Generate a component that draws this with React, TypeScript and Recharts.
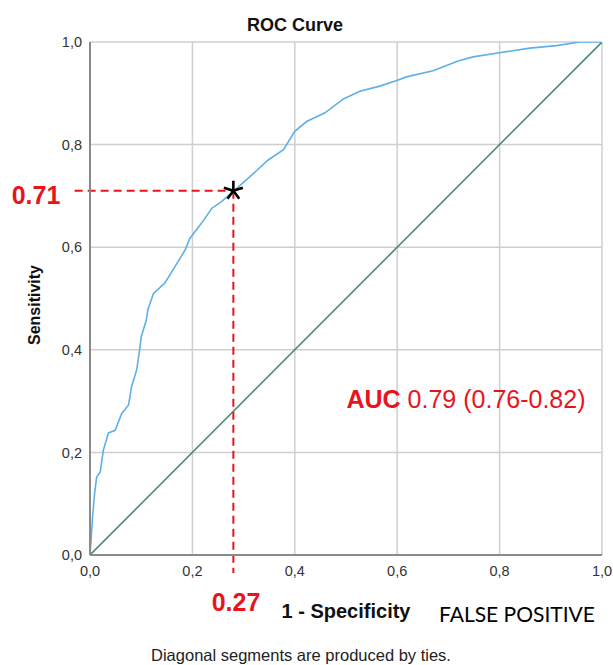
import {
  ComposedChart,
  Line,
  Scatter,
  XAxis,
  YAxis,
  CartesianGrid,
  ReferenceLine,
} from 'recharts';

// ROC curve: 1 - specificity vs sensitivity
const fpr = [
  0, 0.002, 0.005, 0.009, 0.013, 0.02, 0.026, 0.036, 0.049, 0.062, 0.075, 0.078, 0.081,
  0.091, 0.096, 0.1, 0.11, 0.113, 0.124, 0.146, 0.166, 0.186, 0.195, 0.218, 0.238,
  0.257, 0.28, 0.313, 0.348, 0.378, 0.4, 0.423, 0.459, 0.495, 0.527, 0.566, 0.599,
  0.618, 0.67, 0.719, 0.748, 0.8, 0.859, 0.911, 0.957, 1,
];
const tpr = [
  0, 0.028, 0.074, 0.12, 0.152, 0.162, 0.204, 0.238, 0.243, 0.276, 0.292, 0.308, 0.328,
  0.36, 0.393, 0.425, 0.458, 0.478, 0.51, 0.53, 0.562, 0.595, 0.617, 0.647, 0.676,
  0.689, 0.709, 0.738, 0.77, 0.79, 0.826, 0.845, 0.862, 0.889, 0.904, 0.914, 0.925,
  0.932, 0.944, 0.963, 0.971, 0.979, 0.988, 0.993, 1, 1,
];
const diagX = [0, 1];
const diagY = [0, 1];

// cut-off point and the ends of its guide lines
const cutoffX = 0.28;
const cutoffY = 0.71;
const guideLeftX = -0.03;
const guideBottomY = -0.035;

const ticks = [0, 0.2, 0.4, 0.6, 0.8, 1];

const rocData = fpr.map((x, i) => ({ x, roc: tpr[i] }));
const diagData = diagX.map((x, i) => ({ x, diag: diagY[i] }));
const cutoffData = [{ x: cutoffX, y: cutoffY }];

const RED = '#e8141c';
const FONT = 'Arial, "Liberation Sans", sans-serif';
const fmt = (v: number) => v.toFixed(1).replace('.', ',');

const Asterisk = (props: { cx?: number; cy?: number }) => {
  const { cx = 0, cy = 0 } = props;
  const r = 10;
  const arms = [-90, -18, 54, 126, 198].map((a) => {
    const rad = (a * Math.PI) / 180;
    return `M${cx},${cy}L${cx + r * Math.cos(rad)},${cy + r * Math.sin(rad)}`;
  });
  return <path d={arms.join('')} stroke="#000" strokeWidth={2.6} fill="none" />;
};

const textBase: React.CSSProperties = {
  position: 'absolute',
  transform: 'translate(-50%, -50%)',
  whiteSpace: 'nowrap',
  lineHeight: 1,
  fontFamily: FONT,
};

export default function App() {
  return (
    <div style={{ position: 'absolute', left: 0, top: 0, width: 613, height: 665, background: '#fff' }}>
      <ComposedChart
        width={613}
        height={665}
        margin={{ top: 42, right: 11, left: 60, bottom: 80 }}
      >
        <CartesianGrid stroke="#cfcfcf" strokeWidth={1.5} />
        <XAxis
          dataKey="x"
          type="number"
          domain={[0, 1]}
          ticks={ticks}
          tickFormatter={fmt}
          height={30}
          tickLine={false}
          tickMargin={5}
          axisLine={{ stroke: '#8a8a8a', strokeWidth: 2 }}
          tick={{ fill: '#333', fontSize: 14.5, fontFamily: FONT }}
          allowDataOverflow
        />
        <YAxis
          type="number"
          domain={[0, 1]}
          ticks={ticks}
          tickFormatter={fmt}
          width={30}
          tickLine={false}
          axisLine={{ stroke: '#8a8a8a', strokeWidth: 2 }}
          tick={{ fill: '#333', fontSize: 14.5, fontFamily: FONT }}
          allowDataOverflow
        />
        <Line
          data={diagData}
          dataKey="diag"
          type="linear"
          stroke="#4b8b7b"
          strokeWidth={1.6}
          dot={false}
          isAnimationActive={false}
        />
        <Line
          data={rocData}
          dataKey="roc"
          type="linear"
          stroke="#5fb0e6"
          strokeWidth={1.6}
          dot={false}
          isAnimationActive={false}
        />
        <ReferenceLine
          segment={[{ x: guideLeftX, y: cutoffY }, { x: cutoffX, y: cutoffY }]}
          stroke={RED}
          strokeWidth={2}
          strokeDasharray="8 5"
          ifOverflow="visible"
        />
        <ReferenceLine
          segment={[{ x: cutoffX, y: cutoffY }, { x: cutoffX, y: guideBottomY }]}
          stroke={RED}
          strokeWidth={2}
          strokeDasharray="8 5"
          ifOverflow="visible"
        />
        <Scatter
          data={cutoffData}
          dataKey="y"
          shape={<Asterisk />}
          isAnimationActive={false}
        />
      </ComposedChart>

      <div style={{ ...textBase, left: 295, top: 25, fontSize: 18, fontWeight: 'bold', color: '#111' }}>
        ROC Curve
      </div>
      <div
        style={{
          ...textBase,
          left: 35,
          top: 305,
          fontSize: 16,
          fontWeight: 'bold',
          color: '#111',
          transform: 'translate(-50%, -50%) rotate(-90deg)',
        }}
      >
        Sensitivity
      </div>
      <div style={{ ...textBase, left: 36, top: 195, fontSize: 25, fontWeight: 'bold', color: RED }}>
        {cutoffY.toFixed(2)}
      </div>
      <div style={{ ...textBase, left: 236, top: 602, fontSize: 25, fontWeight: 'bold', color: RED }}>
        {(0.27).toFixed(2)}
      </div>
      <div style={{ ...textBase, left: 346, top: 611, fontSize: 20, fontWeight: 'bold', color: '#111' }}>
        1 - Specificity
      </div>
      <div style={{ ...textBase, left: 517, top: 613, fontSize: 21, color: '#000', fontFamily: 'Lato, sans-serif' }}>
        FALSE POSITIVE
      </div>
      <div style={{ ...textBase, left: 466, top: 399, fontSize: 25, color: RED }}>
        <b>AUC</b> 0.79 (0.76-0.82)
      </div>
      <div style={{ ...textBase, left: 301, top: 655, fontSize: 16.5, color: '#222' }}>
        Diagonal segments are produced by ties.
      </div>
    </div>
  );
}
